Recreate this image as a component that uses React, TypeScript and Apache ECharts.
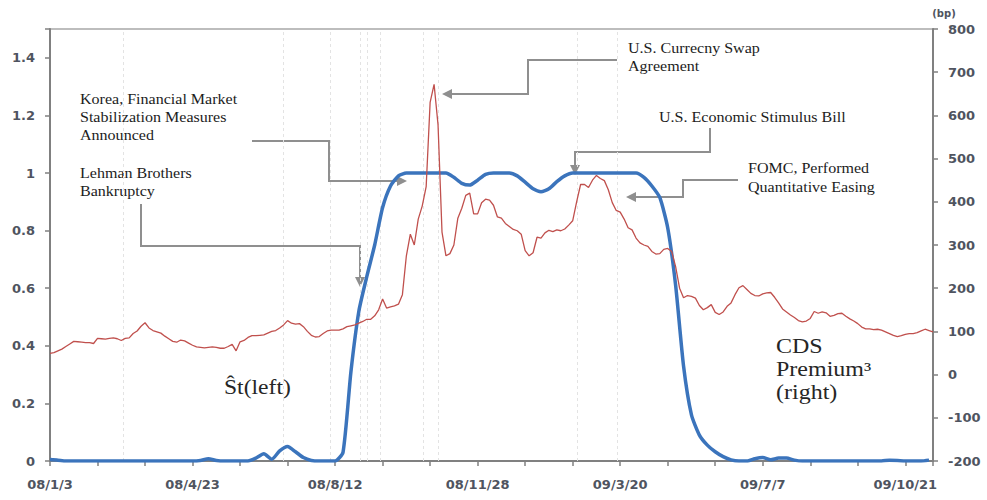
import React, { useEffect, useRef } from 'react';
import * as echarts from 'echarts';

// x is a trading-day index scale: one unit = 1/18 of the spacing between date labels
const tickLabels = ['08/1/3', '08/4/23', '08/8/12', '08/11/28', '09/3/20', '09/7/7', '09/10/21'];

// Ŝt (left axis), one value per x unit
const stProb = [
  0.005, 0.003, 0, 0, 0, 0, 0, 0, 0, 0,
  0, 0, 0, 0, 0, 0, 0, 0, 0, 0.002,
  0.008, 0.002, 0, 0, 0, 0, 0.01, 0.025, 0.006, 0.035,
  0.05, 0.032, 0.012, 0.002, 0, 0, 0, 0.03, 0.31, 0.52,
  0.64, 0.75, 0.88, 0.955, 0.99, 1, 1, 1, 1, 1,
  1, 0.985, 0.964, 0.958, 0.975, 0.995, 1, 1, 1, 0.99,
  0.968, 0.945, 0.935, 0.945, 0.97, 0.99, 1, 1, 1, 1,
  1, 1, 1, 1, 1, 0.985, 0.955, 0.915, 0.81, 0.61,
  0.33, 0.16, 0.09, 0.055, 0.032, 0.015, 0.004, 0, 0, 0.008,
  0.012, 0.004, 0.01, 0.01, 0.003, 0, 0, 0, 0, 0,
  0, 0, 0, 0, 0, 0, 0.003, 0.002, 0, 0,
  0, 0.003,
];

// CDS premium in bp (right axis), one value per half x unit
const cdsPremium = [
  49, 51, 55, 59, 65, 71, 77, 76, 75, 74,
  74, 72, 84, 83, 82, 84, 85, 83, 79, 84,
  85, 95, 101, 112, 120, 108, 102, 99, 96, 89,
  83, 77, 75, 80, 78, 73, 68, 64, 63, 62,
  63, 64, 63, 61, 61, 65, 70, 55, 76, 79,
  86, 90, 90, 91, 92, 96, 100, 102, 108, 115,
  125, 119, 117, 118, 111, 100, 91, 87, 88, 95,
  101, 103, 103, 103, 106, 111, 113, 115, 119, 123,
  128, 128, 136, 150, 175, 154, 157, 159, 163, 185,
  275, 325, 300, 360, 390, 435, 630, 672, 578, 330,
  275, 280, 300, 362, 385, 415, 420, 372, 372, 398,
  406, 404, 392, 365, 362, 350, 343, 336, 333, 325,
  287, 275, 282, 318, 316, 328, 334, 331, 335, 333,
  337, 346, 356, 400, 440, 440, 433, 450, 461, 454,
  449, 428, 398, 380, 376, 360, 340, 335, 316, 305,
  300, 297, 285, 279, 280, 290, 292, 285, 250, 200,
  178, 183, 181, 177, 160, 150, 155, 162, 144, 139,
  145, 158, 166, 185, 201, 206, 197, 188, 183, 182,
  187, 189, 190, 179, 166, 152, 145, 138, 132, 125,
  122, 124, 130, 146, 142, 145, 143, 135, 137, 141,
  142, 135, 129, 124, 118, 110, 106, 106, 104, 105,
  103, 99, 95, 91, 88, 90, 93, 95, 95, 97,
  101, 105, 102, 99,
];

// event dates (x units)
const eventLines = [9.22, 29.43, 35.37, 39.16, 40.04, 41.68, 47.11, 49.01, 66.57, 71.62];

const leftTicks = { min: 0, max: 1.5, interval: 0.2 };
const rightTicks = { min: -200, max: 800, interval: 100 };
const xRange = { min: 0, max: 111.5, tick: 6, labelEvery: 18 };

// annotation layout (pixels)
const notes = [
  { text: 'Korea, Financial Market\nStabilization Measures\nAnnounced', x: 80, y: 90, lh: 18,
    arrow: [[252, 141], [329, 141], [329, 181], [407, 181]] },
  { text: 'Lehman Brothers\nBankruptcy', x: 80, y: 164, lh: 18,
    arrow: [[141, 204], [141, 246], [360, 246], [360, 287]] },
  { text: 'U.S. Currecny Swap\nAgreement', x: 628, y: 39, lh: 18,
    arrow: [[617, 60], [528, 60], [528, 94], [442, 94]] },
  { text: 'U.S. Economic Stimulus Bill', x: 659, y: 108, lh: 18,
    arrow: [[710, 128], [710, 152], [575, 152], [575, 175]] },
  { text: 'FOMC, Performed\nQuantitative Easing', x: 748, y: 158, lh: 19,
    arrow: [[738, 180], [683, 180], [683, 197], [626, 197]] },
];

const ARROW = '#8f8f8f';
const LABEL = '#4f5460';
const SERIF = '"Liberation Serif", "Times New Roman", serif';
const SANS = '"DejaVu Sans", Verdana, sans-serif';

function arrowElements(pts: number[][]) {
  const n = pts.length;
  const [x1, y1] = pts[n - 2];
  const [x2, y2] = pts[n - 1];
  const dx = x2 - x1, dy = y2 - y1;
  const len = Math.hypot(dx, dy);
  const ux = dx / len, uy = dy / len;
  const hl = 10, hw = 5;
  const bx = x2 - ux * hl, by = y2 - uy * hl;
  return [
    {
      type: 'polyline',
      shape: { points: [...pts.slice(0, n - 1), [bx, by]] },
      style: { stroke: ARROW, lineWidth: 2, fill: 'none' },
    },
    {
      type: 'polygon',
      shape: { points: [[x2, y2], [bx - uy * hw, by + ux * hw], [bx + uy * hw, by - ux * hw]] },
      style: { fill: ARROW },
    },
  ];
}

export default function App() {
  const ref = useRef<HTMLDivElement>(null);

  useEffect(() => {
    document.body.style.margin = '0';
    const chart = echarts.init(ref.current!, null, { renderer: 'svg' });

    const axisLabelStyle = { color: LABEL, fontFamily: SANS, fontWeight: 'bold' as const, fontSize: 13 };

    const graphics: any[] = [];
    notes.forEach((n) => {
      graphics.push(...arrowElements(n.arrow));
      graphics.push({
        type: 'text', x: n.x, y: n.y, scaleX: 1.07,
        style: { text: n.text, fontFamily: SERIF, fontSize: 15, lineHeight: n.lh, fill: '#1c1c1c', verticalAlign: 'top' },
      });
    });
    graphics.push({
      type: 'text', x: 224, y: 376, scaleX: 1.18,
      style: { text: 'Ŝt(left)', fontFamily: SERIF, fontSize: 20, lineHeight: 24, fill: '#262626', verticalAlign: 'top' },
    });
    graphics.push({
      type: 'text', x: 776, y: 335, scaleX: 1.2,
      style: { text: 'CDS\nPremium³\n(right)', fontFamily: SERIF, fontSize: 20, lineHeight: 23, fill: '#262626', verticalAlign: 'top' },
    });
    graphics.push({
      type: 'text', x: 944, y: 13,
      style: { text: '(bp)', fontFamily: SANS, fontSize: 10, fontWeight: 'bold', fill: LABEL, align: 'center', verticalAlign: 'middle' },
    });

    chart.setOption({
      animation: false,
      grid: { left: 50, right: 54, top: 29, bottom: 39, show: true, borderColor: '#a8a8a8', borderWidth: 1.5 },
      xAxis: {
        type: 'value',
        min: xRange.min,
        max: xRange.max,
        interval: xRange.tick,
        axisLine: { show: true, onZero: false, lineStyle: { color: '#808080', width: 2 } },
        axisTick: { show: true, length: 5, lineStyle: { color: '#808080', width: 1.5 } },
        splitLine: { show: false },
        axisLabel: {
          ...axisLabelStyle,
          margin: 17,
          showMinLabel: true,
          formatter: (v: number) => {
            const k = v / xRange.labelEvery;
            return Math.abs(k - Math.round(k)) < 1e-6 ? tickLabels[Math.round(k)] ?? '' : '';
          },
        },
      },
      yAxis: [
        {
          type: 'value',
          position: 'left',
          ...leftTicks,
          axisLine: { show: true, onZero: false, lineStyle: { color: '#808080', width: 2 } },
          axisTick: { show: true, length: 5, lineStyle: { color: '#808080', width: 1.5 } },
          splitLine: { show: false },
          axisLabel: {
            ...axisLabelStyle,
            margin: 15,
            formatter: (v: number) => {
              const r = Math.round(v * 5);
              return Math.abs(v * 5 - r) < 1e-6 ? String(r / 5) : '';
            },
          },
        },
        {
          type: 'value',
          position: 'right',
          ...rightTicks,
          axisLine: { show: true, onZero: false, lineStyle: { color: '#808080', width: 2 } },
          axisTick: { show: true, length: 5, lineStyle: { color: '#808080', width: 1.5 } },
          splitLine: { show: false },
          axisLabel: { ...axisLabelStyle, margin: 15 },
        },
      ],
      series: [
        {
          name: 'Ŝt',
          type: 'line',
          yAxisIndex: 0,
          data: stProb.map((v, i) => [i, v]),
          showSymbol: false,
          smooth: 0.2,
          lineStyle: { color: '#3B74BC', width: 3.5 },
          z: 3,
        },
        {
          name: 'CDS Premium',
          type: 'line',
          yAxisIndex: 1,
          data: cdsPremium.map((v, i) => [i / 2, v]),
          showSymbol: false,
          lineStyle: { color: '#C0504D', width: 1.3 },
          z: 4,
          markLine: {
            silent: true,
            symbol: ['none', 'none'],
            label: { show: false },
            lineStyle: { color: '#e3e3e3', type: [3, 3], width: 1 },
            data: eventLines.map((x) => ({ xAxis: x })),
            z: 1,
          },
        },
      ],
      graphic: graphics,
    });

    return () => chart.dispose();
  }, []);

  return <div ref={ref} style={{ width: 987, height: 500 }} />;
}
